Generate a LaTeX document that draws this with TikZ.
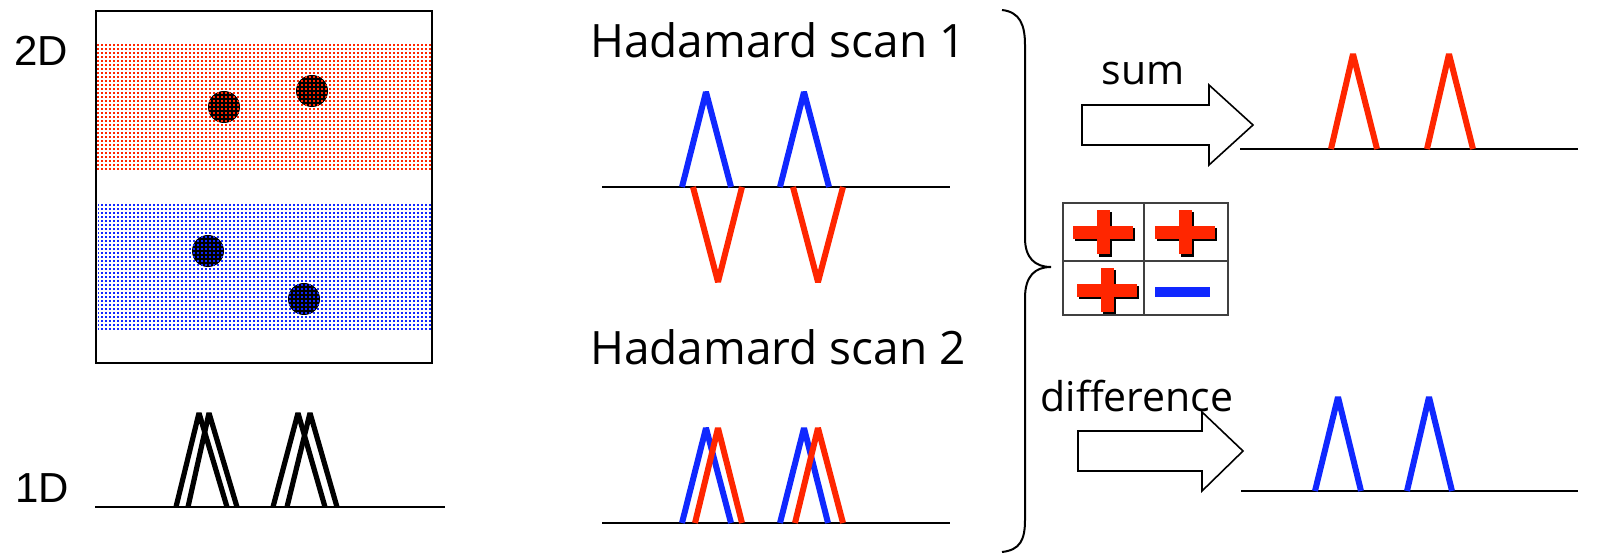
\documentclass[tikz,border=0pt]{standalone}
\usepackage{fontspec}
\setmainfont{Open Sans}
\newfontfamily\arialfont{Liberation Sans}
\usetikzlibrary{patterns}
\pgfdeclarepatternformonly{finedots}{\pgfqpoint{-0.1pt}{-0.1pt}}{\pgfqpoint{2.1pt}{2.1pt}}{\pgfqpoint{2pt}{2pt}}{\pgfpathrectangle{\pgfqpoint{0.45pt}{0.45pt}}{\pgfqpoint{1.1pt}{1.1pt}}\pgfusepath{fill}}
\definecolor{pkred}{RGB}{255,38,0}
\definecolor{pkblue}{RGB}{16,40,255}
\newcommand{\hplus}[2]{%
  \fill[black] (#1-28,#2-4) rectangle (#1+32,#2+9);
  \fill[black] (#1-4,#2-20) rectangle (#1+9,#2+25);
  \fill[pkred] (#1-30,#2-6) rectangle (#1+30,#2+7);
  \fill[pkred] (#1-6,#2-22) rectangle (#1+7,#2+22);
}
\begin{document}
\begin{tikzpicture}[x=0.5pt,y=-0.5pt,
  peak/.style={line width=3pt, line join=bevel},
  blackpeak/.style={line width=2.6pt, line join=bevel, black},
  axisline/.style={line width=1pt, black},
  hlbl/.style={inner sep=0pt, anchor=base, font=\fontsize{23}{27}\selectfont},
  slbl/.style={inner sep=0pt, anchor=base, font=\fontsize{20.5}{24}\selectfont},
  dlbl/.style={inner sep=0pt, anchor=base, font=\arialfont\fontsize{21}{25}\selectfont},
  blockarrow/.style={draw=black, line width=0.8pt, fill=white, line join=miter},
  gridline/.style={draw=black!75, line width=0.6pt}]
\useasboundingbox (0,0) rectangle (1602,555);

% 2D box
\fill[pattern=finedots, pattern color=pkred] (96,43) rectangle (432,172);
\fill[pattern=finedots, pattern color=pkblue] (98,203) rectangle (432,332);
\foreach \cx/\cy/\cc in {224/107/pkred, 312/91/pkred, 208/251/pkblue, 304/299/pkblue}{
  \fill[black] (\cx,\cy) circle[radius=8pt];
  \fill[pattern=finedots, pattern color=\cc] (\cx,\cy) circle[radius=8pt];
}
\draw[line width=1pt] (96,11) rectangle (432,363);
\node[dlbl] (lab2d) at (41,66) {2D};

% 1D
\node[dlbl] (lab1d) at (42,503) {1D};
\draw[axisline] (95,507) -- (445,507);
\draw[blackpeak] (176,507) -- (199,413) -- (227,507);
\draw[blackpeak] (188,507) -- (209,413) -- (237,507);
\draw[blackpeak] (273,507) -- (298,413) -- (325,507);
\draw[blackpeak] (287,507) -- (310,413) -- (337,507);

% Hadamard scan 1
\node[hlbl] (scan1) at (778,58) {Hadamard scan 1};
\draw[axisline] (602,187) -- (950,187);
\draw[peak, pkblue] (682,187) -- (706,92) -- (731,187);
\draw[peak, pkblue] (780,187) -- (804,92) -- (829,187);
\draw[peak, pkred] (693,187) -- (718,282) -- (742,187);
\draw[peak, pkred] (793,187) -- (818,282) -- (843,187);

% Hadamard scan 2
\node[hlbl] (scan2) at (778,365) {Hadamard scan 2};
\draw[axisline] (602,523) -- (950,523);
\draw[peak, pkblue] (682,523) -- (706,428) -- (731,523);
\draw[peak, pkblue] (780,523) -- (804,428) -- (828,523);
\draw[peak, pkred] (695,523) -- (718,428) -- (742,523);
\draw[peak, pkred] (795,523) -- (818,428) -- (843,523);

% brace
\draw[line width=1pt] (1002,10) .. controls (1020,12) and (1025,25) .. (1025,45) -- (1025,238)
  .. controls (1025,258) and (1035,267) .. (1051,267)
  .. controls (1035,267) and (1025,276) .. (1025,298) -- (1025,520)
  .. controls (1025,540) and (1020,550) .. (1002,552);

% sign table
\hplus{1103}{232}
\hplus{1185}{232}
\hplus{1107}{290}
\fill[pkblue] (1155,287) rectangle (1210,297);
\draw[gridline] (1063,203) rectangle (1228,315);
\draw[gridline] (1144,203) -- (1144,315);
\draw[gridline] (1063,261) -- (1228,261);

% sum
\node[slbl] (sumlbl) at (1143,85) {sum};
\draw[blockarrow] (1082,105) -- (1209,105) -- (1209,85) -- (1253,125) -- (1209,165) -- (1209,145) -- (1082,145) -- cycle;
\draw[axisline] (1240,149) -- (1578,149);
\draw[peak, pkred] (1331,149) -- (1353,54) -- (1377,149);
\draw[peak, pkred] (1427,149) -- (1449,54) -- (1473,149);

% difference
\node[slbl] (difflbl) at (1137,412) {difference};
\draw[blockarrow] (1078,431) -- (1202,431) -- (1202,412) -- (1243,451) -- (1202,491) -- (1202,471) -- (1078,471) -- cycle;
\draw[axisline] (1241,491) -- (1578,491);
\draw[peak, pkblue] (1315,491) -- (1338,397) -- (1361,491);
\draw[peak, pkblue] (1407,491) -- (1429,397) -- (1452,491);
\end{tikzpicture}
\end{document}
